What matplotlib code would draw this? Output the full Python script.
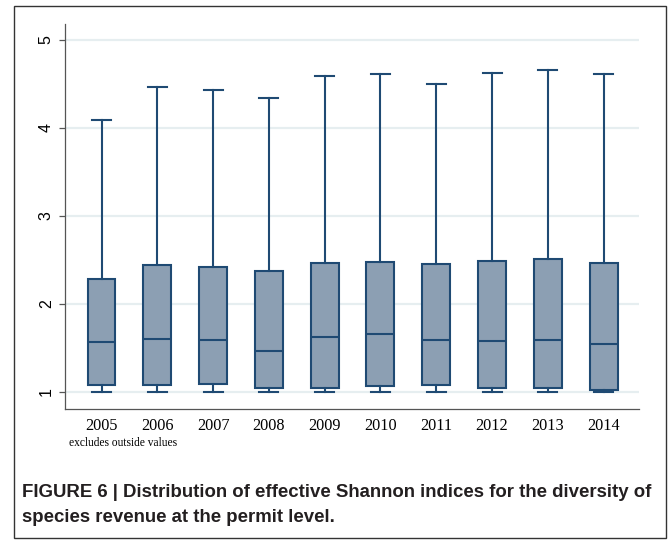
import matplotlib
matplotlib.use("Agg")
import matplotlib.pyplot as plt
from matplotlib.patches import Rectangle

years = ["2005", "2006", "2007", "2008", "2009", "2010", "2011", "2012", "2013", "2014"]
whislo = [1.00, 1.00, 1.00, 1.00, 1.00, 1.00, 1.00, 1.00, 1.00, 1.00]
q1 = [1.08, 1.08, 1.09, 1.05, 1.05, 1.07, 1.08, 1.05, 1.05, 1.02]
med = [1.57, 1.60, 1.59, 1.47, 1.63, 1.66, 1.59, 1.58, 1.59, 1.55]
q3 = [2.28, 2.44, 2.42, 2.37, 2.47, 2.48, 2.45, 2.49, 2.51, 2.47]
whishi = [4.09, 4.46, 4.43, 4.34, 4.59, 4.61, 4.50, 4.62, 4.66, 4.61]
yticks = [1, 2, 3, 4, 5]

W, H = 670, 542
fig = plt.figure(figsize=(W / 100, H / 100), dpi=100)
fig.patch.set_facecolor("white")

ax = fig.add_axes([65.3 / W, (H - 409) / H, (639.3 - 65.3) / W, (409 - 24) / H])

navy = "#1f4a73"
fill = "#8c9fb3"
stats = []
for i in range(len(years)):
    stats.append(dict(whislo=whislo[i], q1=q1[i], med=med[i], q3=q3[i],
                      whishi=whishi[i], fliers=[], label=years[i]))
pos = list(range(1, len(years) + 1))
ax.bxp(stats, positions=pos, widths=0.5, capwidths=0.34, patch_artist=True,
       showfliers=False,
       boxprops=dict(facecolor=fill, edgecolor=navy, linewidth=1.5),
       whiskerprops=dict(color=navy, linewidth=1.5),
       capprops=dict(color=navy, linewidth=1.5),
       medianprops=dict(color=navy, linewidth=1.5),
       manage_ticks=False, zorder=3)

ax.set_xlim(0.351, 10.64)
ax.set_ylim(0.807, 5.18)
ax.set_yticks(yticks)
ax.set_yticklabels([str(t) for t in yticks], rotation=90, va="center",
                   family="Liberation Sans", fontsize=11.5)
ax.set_xticks(pos)
ax.set_xticklabels(years, family="Liberation Serif", fontsize=11.7)
ax.tick_params(axis="x", length=0, pad=6.5)
ax.tick_params(axis="y", length=4.3, width=0.9, color="#555555", pad=4)
for t in yticks:
    ax.axhline(t, color="#e6eef0", linewidth=1.6, zorder=1)
for s in ["top", "right"]:
    ax.spines[s].set_visible(False)
for s in ["left", "bottom"]:
    ax.spines[s].set_color("#555555")
    ax.spines[s].set_linewidth(0.9)

fig.text(69 / W, (H - 443) / H, "excludes outside values", family="Liberation Serif",
         fontsize=8.3, va="center", ha="left")

fig.text(22 / W, (H - 497) / H,
         "FIGURE 6 | Distribution of effective Shannon indices for the diversity of",
         family="Liberation Sans", weight="bold", fontsize=13.4, color="#231f20",
         va="baseline", ha="left")
fig.text(22 / W, (H - 522) / H, "species revenue at the permit level.",
         family="Liberation Sans", weight="bold", fontsize=13.4, color="#231f20",
         va="baseline", ha="left")

fig.add_artist(Rectangle((14 / W, (H - 538) / H), 652 / W, 532 / H,
                         transform=fig.transFigure, fill=False,
                         edgecolor="#333333", linewidth=1.0))

fig.savefig("out.png", dpi=100, facecolor="white")
